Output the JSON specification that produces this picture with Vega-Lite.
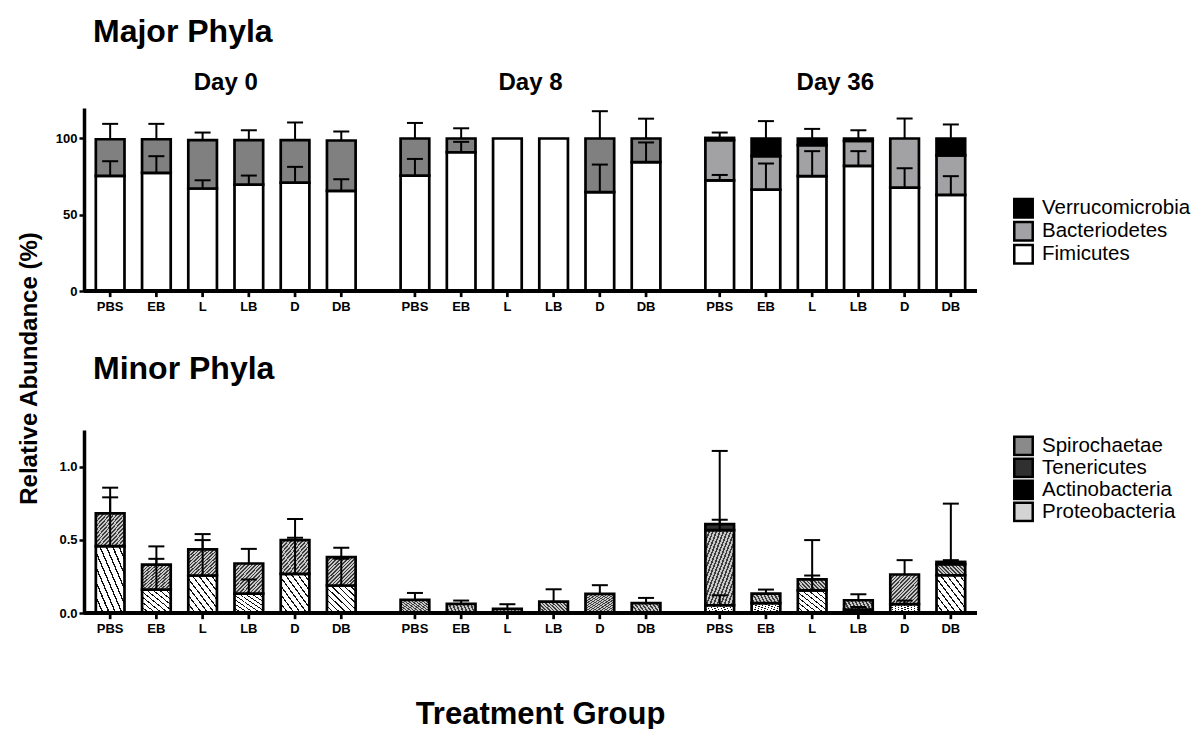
{
  "$schema": "https://vega.github.io/schema/vega-lite/v6.json",
  "padding": {"left": 17, "top": 15, "right": 5, "bottom": 5},
  "background": "#ffffff",
  "config": {
    "font": "Liberation Sans",
    "view": {"stroke": null},
    "axis": {"grid": false, "labelFont": "Liberation Sans", "titleFont": "Liberation Sans"},
    "legend": {"labelFont": "Liberation Sans"},
    "title": {"font": "Liberation Sans", "color": "#000"}
  },
  "datasets": {
    "major": [
      {"day": "Day 0", "trt": "PBS", "phylum": "Fimicutes", "value": 75.5},
      {"day": "Day 0", "trt": "PBS", "phylum": "Bacteriodetes", "value": 24},
      {"day": "Day 0", "trt": "EB", "phylum": "Fimicutes", "value": 77.4},
      {"day": "Day 0", "trt": "EB", "phylum": "Bacteriodetes", "value": 22.1},
      {"day": "Day 0", "trt": "L", "phylum": "Fimicutes", "value": 67.2},
      {"day": "Day 0", "trt": "L", "phylum": "Bacteriodetes", "value": 31.8},
      {"day": "Day 0", "trt": "LB", "phylum": "Fimicutes", "value": 69.8},
      {"day": "Day 0", "trt": "LB", "phylum": "Bacteriodetes", "value": 29.2},
      {"day": "Day 0", "trt": "D", "phylum": "Fimicutes", "value": 71.1},
      {"day": "Day 0", "trt": "D", "phylum": "Bacteriodetes", "value": 27.9},
      {"day": "Day 0", "trt": "DB", "phylum": "Fimicutes", "value": 65.6},
      {"day": "Day 0", "trt": "DB", "phylum": "Bacteriodetes", "value": 33.1},
      {"day": "Day 8", "trt": "PBS", "phylum": "Fimicutes", "value": 75.6},
      {"day": "Day 8", "trt": "PBS", "phylum": "Bacteriodetes", "value": 24.4},
      {"day": "Day 8", "trt": "EB", "phylum": "Fimicutes", "value": 91},
      {"day": "Day 8", "trt": "EB", "phylum": "Bacteriodetes", "value": 9},
      {"day": "Day 8", "trt": "L", "phylum": "Fimicutes", "value": 100},
      {"day": "Day 8", "trt": "LB", "phylum": "Fimicutes", "value": 100},
      {"day": "Day 8", "trt": "D", "phylum": "Fimicutes", "value": 64.9},
      {"day": "Day 8", "trt": "D", "phylum": "Bacteriodetes", "value": 35.1},
      {"day": "Day 8", "trt": "DB", "phylum": "Fimicutes", "value": 84.5},
      {"day": "Day 8", "trt": "DB", "phylum": "Bacteriodetes", "value": 15.5},
      {"day": "Day 36", "trt": "PBS", "phylum": "Fimicutes", "value": 72.6},
      {"day": "Day 36", "trt": "PBS", "phylum": "Bacteriodetes", "value": 26.3},
      {"day": "Day 36", "trt": "PBS", "phylum": "Verrucomicrobia", "value": 1.5},
      {"day": "Day 36", "trt": "EB", "phylum": "Fimicutes", "value": 66.5},
      {"day": "Day 36", "trt": "EB", "phylum": "Bacteriodetes", "value": 21.9},
      {"day": "Day 36", "trt": "EB", "phylum": "Verrucomicrobia", "value": 11.6},
      {"day": "Day 36", "trt": "L", "phylum": "Fimicutes", "value": 75.3},
      {"day": "Day 36", "trt": "L", "phylum": "Bacteriodetes", "value": 20.3},
      {"day": "Day 36", "trt": "L", "phylum": "Verrucomicrobia", "value": 4.4},
      {"day": "Day 36", "trt": "LB", "phylum": "Fimicutes", "value": 82},
      {"day": "Day 36", "trt": "LB", "phylum": "Bacteriodetes", "value": 16.4},
      {"day": "Day 36", "trt": "LB", "phylum": "Verrucomicrobia", "value": 1.6},
      {"day": "Day 36", "trt": "D", "phylum": "Fimicutes", "value": 67.8},
      {"day": "Day 36", "trt": "D", "phylum": "Bacteriodetes", "value": 32.2},
      {"day": "Day 36", "trt": "DB", "phylum": "Fimicutes", "value": 63},
      {"day": "Day 36", "trt": "DB", "phylum": "Bacteriodetes", "value": 26},
      {"day": "Day 36", "trt": "DB", "phylum": "Verrucomicrobia", "value": 11}
    ],
    "majorErr": [
      {"day": "Day 0", "trt": "PBS", "lo": 75.5, "hi": 85.1},
      {"day": "Day 0", "trt": "PBS", "lo": 99.5, "hi": 109.6},
      {"day": "Day 0", "trt": "EB", "lo": 77.4, "hi": 88.4},
      {"day": "Day 0", "trt": "EB", "lo": 99.5, "hi": 109.6},
      {"day": "Day 0", "trt": "L", "lo": 67.2, "hi": 72.6},
      {"day": "Day 0", "trt": "L", "lo": 99, "hi": 103.9},
      {"day": "Day 0", "trt": "LB", "lo": 69.8, "hi": 75.7},
      {"day": "Day 0", "trt": "LB", "lo": 99, "hi": 105.4},
      {"day": "Day 0", "trt": "D", "lo": 71.1, "hi": 81.4},
      {"day": "Day 0", "trt": "D", "lo": 99, "hi": 110.5},
      {"day": "Day 0", "trt": "DB", "lo": 65.6, "hi": 73.3},
      {"day": "Day 0", "trt": "DB", "lo": 98.7, "hi": 104.6},
      {"day": "Day 8", "trt": "PBS", "lo": 75.6, "hi": 86.6},
      {"day": "Day 8", "trt": "PBS", "lo": 100, "hi": 110.2},
      {"day": "Day 8", "trt": "EB", "lo": 91, "hi": 97.8},
      {"day": "Day 8", "trt": "EB", "lo": 100, "hi": 106.7},
      {"day": "Day 8", "trt": "D", "lo": 64.9, "hi": 82.9},
      {"day": "Day 8", "trt": "D", "lo": 100, "hi": 117.9},
      {"day": "Day 8", "trt": "DB", "lo": 84.5, "hi": 97.4},
      {"day": "Day 8", "trt": "DB", "lo": 100, "hi": 113},
      {"day": "Day 36", "trt": "PBS", "lo": 72.6, "hi": 76.1},
      {"day": "Day 36", "trt": "PBS", "lo": 100.4, "hi": 103.9},
      {"day": "Day 36", "trt": "EB", "lo": 66.5, "hi": 83.6},
      {"day": "Day 36", "trt": "EB", "lo": 100, "hi": 111.4},
      {"day": "Day 36", "trt": "L", "lo": 75.3, "hi": 91.7},
      {"day": "Day 36", "trt": "L", "lo": 100, "hi": 106.3},
      {"day": "Day 36", "trt": "LB", "lo": 82, "hi": 91.7},
      {"day": "Day 36", "trt": "LB", "lo": 100, "hi": 105.4},
      {"day": "Day 36", "trt": "D", "lo": 67.8, "hi": 80.5},
      {"day": "Day 36", "trt": "D", "lo": 100, "hi": 113.1},
      {"day": "Day 36", "trt": "DB", "lo": 63, "hi": 75.3},
      {"day": "Day 36", "trt": "DB", "lo": 100, "hi": 109.2}
    ],
    "minor": [
      {"day": "Day 0", "trt": "PBS", "phylum": "Proteobacteria", "value": 0.457},
      {"day": "Day 0", "trt": "PBS", "phylum": "Spirochaetae", "value": 0.224},
      {"day": "Day 0", "trt": "EB", "phylum": "Proteobacteria", "value": 0.16},
      {"day": "Day 0", "trt": "EB", "phylum": "Spirochaetae", "value": 0.171},
      {"day": "Day 0", "trt": "L", "phylum": "Proteobacteria", "value": 0.256},
      {"day": "Day 0", "trt": "L", "phylum": "Spirochaetae", "value": 0.178},
      {"day": "Day 0", "trt": "LB", "phylum": "Proteobacteria", "value": 0.133},
      {"day": "Day 0", "trt": "LB", "phylum": "Spirochaetae", "value": 0.205},
      {"day": "Day 0", "trt": "D", "phylum": "Proteobacteria", "value": 0.267},
      {"day": "Day 0", "trt": "D", "phylum": "Spirochaetae", "value": 0.231},
      {"day": "Day 0", "trt": "DB", "phylum": "Proteobacteria", "value": 0.188},
      {"day": "Day 0", "trt": "DB", "phylum": "Spirochaetae", "value": 0.193},
      {"day": "Day 8", "trt": "PBS", "phylum": "Spirochaetae", "value": 0.089},
      {"day": "Day 8", "trt": "EB", "phylum": "Spirochaetae", "value": 0.062},
      {"day": "Day 8", "trt": "L", "phylum": "Spirochaetae", "value": 0.028},
      {"day": "Day 8", "trt": "LB", "phylum": "Spirochaetae", "value": 0.078},
      {"day": "Day 8", "trt": "D", "phylum": "Spirochaetae", "value": 0.13},
      {"day": "Day 8", "trt": "DB", "phylum": "Spirochaetae", "value": 0.068},
      {"day": "Day 36", "trt": "PBS", "phylum": "Proteobacteria", "value": 0.053},
      {"day": "Day 36", "trt": "PBS", "phylum": "Spirochaetae", "value": 0.513},
      {"day": "Day 36", "trt": "PBS", "phylum": "Tenericutes", "value": 0.041},
      {"day": "Day 36", "trt": "EB", "phylum": "Proteobacteria", "value": 0.068},
      {"day": "Day 36", "trt": "EB", "phylum": "Spirochaetae", "value": 0.065},
      {"day": "Day 36", "trt": "L", "phylum": "Proteobacteria", "value": 0.155},
      {"day": "Day 36", "trt": "L", "phylum": "Spirochaetae", "value": 0.074},
      {"day": "Day 36", "trt": "LB", "phylum": "Proteobacteria", "value": 0.023},
      {"day": "Day 36", "trt": "LB", "phylum": "Spirochaetae", "value": 0.064},
      {"day": "Day 36", "trt": "D", "phylum": "Proteobacteria", "value": 0.06},
      {"day": "Day 36", "trt": "D", "phylum": "Spirochaetae", "value": 0.203},
      {"day": "Day 36", "trt": "DB", "phylum": "Proteobacteria", "value": 0.258},
      {"day": "Day 36", "trt": "DB", "phylum": "Spirochaetae", "value": 0.075},
      {"day": "Day 36", "trt": "DB", "phylum": "Tenericutes", "value": 0.016}
    ],
    "minorErr": [
      {"day": "Day 0", "trt": "PBS", "lo": 0.457, "hi": 0.79},
      {"day": "Day 0", "trt": "PBS", "lo": 0.681, "hi": 0.856},
      {"day": "Day 0", "trt": "EB", "lo": 0.16, "hi": 0.37},
      {"day": "Day 0", "trt": "EB", "lo": 0.331, "hi": 0.455},
      {"day": "Day 0", "trt": "L", "lo": 0.256, "hi": 0.498},
      {"day": "Day 0", "trt": "L", "lo": 0.434, "hi": 0.539},
      {"day": "Day 0", "trt": "LB", "lo": 0.133, "hi": 0.229},
      {"day": "Day 0", "trt": "LB", "lo": 0.338, "hi": 0.438},
      {"day": "Day 0", "trt": "D", "lo": 0.267, "hi": 0.514},
      {"day": "Day 0", "trt": "D", "lo": 0.498, "hi": 0.642},
      {"day": "Day 0", "trt": "DB", "lo": 0.188, "hi": 0.37},
      {"day": "Day 0", "trt": "DB", "lo": 0.381, "hi": 0.445},
      {"day": "Day 8", "trt": "PBS", "lo": 0.089, "hi": 0.137},
      {"day": "Day 8", "trt": "EB", "lo": 0.062, "hi": 0.085},
      {"day": "Day 8", "trt": "L", "lo": 0.028, "hi": 0.06},
      {"day": "Day 8", "trt": "LB", "lo": 0.078, "hi": 0.162},
      {"day": "Day 8", "trt": "D", "lo": 0.13, "hi": 0.19},
      {"day": "Day 8", "trt": "DB", "lo": 0.068, "hi": 0.103},
      {"day": "Day 36", "trt": "PBS", "lo": 0.053, "hi": 0.121},
      {"day": "Day 36", "trt": "PBS", "lo": 0.566, "hi": 0.637},
      {"day": "Day 36", "trt": "PBS", "lo": 0.607, "hi": 1.107},
      {"day": "Day 36", "trt": "EB", "lo": 0.133, "hi": 0.16},
      {"day": "Day 36", "trt": "L", "lo": 0.155, "hi": 0.256},
      {"day": "Day 36", "trt": "L", "lo": 0.229, "hi": 0.498},
      {"day": "Day 36", "trt": "LB", "lo": 0.023, "hi": 0.041},
      {"day": "Day 36", "trt": "LB", "lo": 0.087, "hi": 0.128},
      {"day": "Day 36", "trt": "D", "lo": 0.06, "hi": 0.085},
      {"day": "Day 36", "trt": "D", "lo": 0.263, "hi": 0.361},
      {"day": "Day 36", "trt": "DB", "lo": 0.333, "hi": 0.361},
      {"day": "Day 36", "trt": "DB", "lo": 0.349, "hi": 0.747}
    ],
    "groups": [
      {"day": "Day 0", "trt": "PBS"}, {"day": "Day 0", "trt": "EB"}, {"day": "Day 0", "trt": "L"},
      {"day": "Day 0", "trt": "LB"}, {"day": "Day 0", "trt": "D"}, {"day": "Day 0", "trt": "DB"},
      {"day": "Day 8", "trt": "PBS"}, {"day": "Day 8", "trt": "EB"}, {"day": "Day 8", "trt": "L"},
      {"day": "Day 8", "trt": "LB"}, {"day": "Day 8", "trt": "D"}, {"day": "Day 8", "trt": "DB"},
      {"day": "Day 36", "trt": "PBS"}, {"day": "Day 36", "trt": "EB"}, {"day": "Day 36", "trt": "L"},
      {"day": "Day 36", "trt": "LB"}, {"day": "Day 36", "trt": "D"}, {"day": "Day 36", "trt": "DB"}
    ]
  },
  "spacing": 139,
  "bounds": "flush",
  "resolve": {"scale": {"y": "independent", "fill": "independent"}, "legend": {"fill": "independent"}},
  "vconcat": [
    {
      "width": 893,
      "height": 183,
      "title": {"text": "Major Phyla", "anchor": "start", "frame": "group", "dx": 9, "fontSize": 32, "fontWeight": "bold", "offset": 21.5},
      "layer": [
        {
          "data": {"name": "major"},
          "mark": {"type": "bar", "stroke": "#000", "strokeWidth": 2.7},
          "encoding": {
            "x": {"field": "day", "type": "nominal", "sort": ["Day 0", "Day 8", "Day 36"],
                  "scale": {"paddingInner": 0.09, "paddingOuter": 0.01},
                  "axis": {"orient": "top", "title": null, "domain": false, "ticks": false, "labelAngle": 0, "labelFontSize": 24, "labelFontWeight": "bold", "labelPadding": 19, "labelBaseline": "alphabetic", "labelColor": "#000"}},
            "xOffset": {"field": "trt", "type": "nominal", "sort": ["PBS", "EB", "L", "LB", "D", "DB"], "scale": {"paddingInner": 0.38, "paddingOuter": 0.19}},
            "y": {"field": "value", "type": "quantitative", "stack": "zero", "scale": {"domain": [0, 120], "nice": false},
                  "axis": {"title": "Relative Abundance (%)", "values": [0, 50, 100], "domainWidth": 3.5, "domainColor": "#000", "tickColor": "#000", "tickWidth": 2.5, "tickSize": 5, "labelFontSize": 13, "labelFontWeight": "bold", "labelPadding": 2, "labelColor": "#000", "titleFontSize": 24, "titleFontWeight": "bold", "titleColor": "#000", "titleAngle": -90, "titleX": -48, "titleY": 260, "titleBaseline": "alphabetic", "titleAlign": "center"}},
            "order": {"field": "value", "type": "quantitative", "sort": "descending"},
            "fill": {
              "field": "phylum", "type": "nominal",
              "condition": {"test": "datum.phylum === 'Bacteriodetes' && datum.day !== 'Day 36'", "value": "#808080"},
              "scale": {"domain": ["Verrucomicrobia", "Bacteriodetes", "Fimicutes"], "range": ["#000000", "#a2a2a4", "#ffffff"]},
              "legend": {"title": null, "orient": "none", "legendX": 929, "legendY": 89, "symbolType": "square", "symbolSize": 340, "symbolStrokeColor": "#000", "symbolStrokeWidth": 2.5, "labelFontSize": 20.5, "labelOffset": 8, "rowPadding": 0, "clipHeight": 22.5, "labelColor": "#000", "values": ["Verrucomicrobia", "Bacteriodetes", "Fimicutes"]}
            }
          }
        },
        {
          "data": {"name": "majorErr"},
          "mark": {"type": "rule", "color": "#000", "strokeWidth": 2},
          "encoding": {
            "x": {"field": "day", "type": "nominal", "sort": ["Day 0", "Day 8", "Day 36"]},
            "xOffset": {"field": "trt", "type": "nominal", "sort": ["PBS", "EB", "L", "LB", "D", "DB"]},
            "y": {"field": "lo", "type": "quantitative"},
            "y2": {"field": "hi"}
          }
        },
        {
          "data": {"name": "majorErr"},
          "mark": {"type": "tick", "orient": "horizontal", "color": "#000", "size": 16, "thickness": 2, "opacity": 1},
          "encoding": {
            "x": {"field": "day", "type": "nominal", "sort": ["Day 0", "Day 8", "Day 36"]},
            "xOffset": {"field": "trt", "type": "nominal", "sort": ["PBS", "EB", "L", "LB", "D", "DB"]},
            "y": {"field": "hi", "type": "quantitative"}
          }
        },
        {
          "data": {"values": [{}]},
          "mark": {"type": "rule", "color": "#000", "strokeWidth": 4},
          "encoding": {"y": {"datum": 0, "type": "quantitative"}}
        },
        {
          "data": {"name": "groups"},
          "mark": {"type": "rule", "color": "#000", "strokeWidth": 2.7},
          "encoding": {
            "x": {"field": "day", "type": "nominal", "sort": ["Day 0", "Day 8", "Day 36"]},
            "xOffset": {"field": "trt", "type": "nominal", "sort": ["PBS", "EB", "L", "LB", "D", "DB"]},
            "y": {"datum": 0, "type": "quantitative"},
            "y2": {"datum": -4}
          }
        },
        {
          "data": {"name": "groups"},
          "mark": {"type": "text", "dy": 16, "fontSize": 13, "fontWeight": "bold", "baseline": "middle", "color": "#000"},
          "encoding": {
            "x": {"field": "day", "type": "nominal", "sort": ["Day 0", "Day 8", "Day 36"]},
            "xOffset": {"field": "trt", "type": "nominal", "sort": ["PBS", "EB", "L", "LB", "D", "DB"]},
            "y": {"datum": 0, "type": "quantitative"},
            "text": {"field": "trt"}
          }
        }
      ]
    },
    {
      "width": 893,
      "height": 183,
      "title": {"text": "Minor Phyla", "anchor": "start", "frame": "group", "dx": 9, "fontSize": 32, "fontWeight": "bold", "offset": 44},
      "layer": [
        {
          "data": {"name": "minor"},
          "mark": {"type": "bar", "stroke": "#000", "strokeWidth": 2.7},
          "encoding": {
            "x": {"field": "day", "type": "nominal", "sort": ["Day 0", "Day 8", "Day 36"],
                  "scale": {"paddingInner": 0.09, "paddingOuter": 0.01},
                  "axis": {"orient": "bottom", "labels": false, "ticks": false, "domain": false, "title": "Treatment Group", "titleFontSize": 31, "titleFontWeight": "bold", "titleColor": "#000", "titlePadding": 110, "titleBaseline": "alphabetic", "titleX": 456}},
            "xOffset": {"field": "trt", "type": "nominal", "sort": ["PBS", "EB", "L", "LB", "D", "DB"], "scale": {"paddingInner": 0.38, "paddingOuter": 0.19}},
            "y": {"field": "value", "type": "quantitative", "stack": "zero", "scale": {"domain": [0, 1.25], "nice": false},
                  "axis": {"title": null, "values": [0, 0.5, 1], "format": ".1f", "domainWidth": 3.5, "domainColor": "#000", "tickColor": "#000", "tickWidth": 2.5, "tickSize": 5, "labelFontSize": 13, "labelFontWeight": "bold", "labelPadding": 2, "labelColor": "#000"}},
            "order": {"field": "phylum", "type": "nominal", "sort": "ascending"},
            "fill": {
              "field": "phylum", "type": "nominal",
              "condition": [
                {"test": "datum.phylum === 'Spirochaetae'", "value": {"gradient": "linear", "x1": 0, "y1": 0, "x2": 1, "y2": 1, "stops": [
                    {"offset": 0, "color": "#3c3c3c"}, {"offset": 0.028, "color": "#3c3c3c"}, {"offset": 0.028, "color": "#c8c8c8"}, {"offset": 0.0625, "color": "#c8c8c8"},
                    {"offset": 0.0625, "color": "#3c3c3c"}, {"offset": 0.0905, "color": "#3c3c3c"}, {"offset": 0.0905, "color": "#c8c8c8"}, {"offset": 0.125, "color": "#c8c8c8"},
                    {"offset": 0.125, "color": "#3c3c3c"}, {"offset": 0.153, "color": "#3c3c3c"}, {"offset": 0.153, "color": "#c8c8c8"}, {"offset": 0.1875, "color": "#c8c8c8"},
                    {"offset": 0.1875, "color": "#3c3c3c"}, {"offset": 0.2155, "color": "#3c3c3c"}, {"offset": 0.2155, "color": "#c8c8c8"}, {"offset": 0.25, "color": "#c8c8c8"},
                    {"offset": 0.25, "color": "#3c3c3c"}, {"offset": 0.278, "color": "#3c3c3c"}, {"offset": 0.278, "color": "#c8c8c8"}, {"offset": 0.3125, "color": "#c8c8c8"},
                    {"offset": 0.3125, "color": "#3c3c3c"}, {"offset": 0.3405, "color": "#3c3c3c"}, {"offset": 0.3405, "color": "#c8c8c8"}, {"offset": 0.375, "color": "#c8c8c8"},
                    {"offset": 0.375, "color": "#3c3c3c"}, {"offset": 0.403, "color": "#3c3c3c"}, {"offset": 0.403, "color": "#c8c8c8"}, {"offset": 0.4375, "color": "#c8c8c8"},
                    {"offset": 0.4375, "color": "#3c3c3c"}, {"offset": 0.4655, "color": "#3c3c3c"}, {"offset": 0.4655, "color": "#c8c8c8"}, {"offset": 0.5, "color": "#c8c8c8"},
                    {"offset": 0.5, "color": "#3c3c3c"}, {"offset": 0.528, "color": "#3c3c3c"}, {"offset": 0.528, "color": "#c8c8c8"}, {"offset": 0.5625, "color": "#c8c8c8"},
                    {"offset": 0.5625, "color": "#3c3c3c"}, {"offset": 0.5905, "color": "#3c3c3c"}, {"offset": 0.5905, "color": "#c8c8c8"}, {"offset": 0.625, "color": "#c8c8c8"},
                    {"offset": 0.625, "color": "#3c3c3c"}, {"offset": 0.653, "color": "#3c3c3c"}, {"offset": 0.653, "color": "#c8c8c8"}, {"offset": 0.6875, "color": "#c8c8c8"},
                    {"offset": 0.6875, "color": "#3c3c3c"}, {"offset": 0.7155, "color": "#3c3c3c"}, {"offset": 0.7155, "color": "#c8c8c8"}, {"offset": 0.75, "color": "#c8c8c8"},
                    {"offset": 0.75, "color": "#3c3c3c"}, {"offset": 0.778, "color": "#3c3c3c"}, {"offset": 0.778, "color": "#c8c8c8"}, {"offset": 0.8125, "color": "#c8c8c8"},
                    {"offset": 0.8125, "color": "#3c3c3c"}, {"offset": 0.8405, "color": "#3c3c3c"}, {"offset": 0.8405, "color": "#c8c8c8"}, {"offset": 0.875, "color": "#c8c8c8"},
                    {"offset": 0.875, "color": "#3c3c3c"}, {"offset": 0.903, "color": "#3c3c3c"}, {"offset": 0.903, "color": "#c8c8c8"}, {"offset": 0.9375, "color": "#c8c8c8"},
                    {"offset": 0.9375, "color": "#3c3c3c"}, {"offset": 0.9655, "color": "#3c3c3c"}, {"offset": 0.9655, "color": "#c8c8c8"}, {"offset": 1, "color": "#c8c8c8"}
                  ]}},
                {"test": "datum.phylum === 'Proteobacteria'", "value": {"gradient": "linear", "x1": 0, "y1": 1, "x2": 1, "y2": 0, "stops": [
                    {"offset": 0, "color": "#111111"}, {"offset": 0.025, "color": "#111111"}, {"offset": 0.025, "color": "#ffffff"}, {"offset": 0.1111, "color": "#ffffff"},
                    {"offset": 0.1111, "color": "#111111"}, {"offset": 0.1361, "color": "#111111"}, {"offset": 0.1361, "color": "#ffffff"}, {"offset": 0.2222, "color": "#ffffff"},
                    {"offset": 0.2222, "color": "#111111"}, {"offset": 0.2472, "color": "#111111"}, {"offset": 0.2472, "color": "#ffffff"}, {"offset": 0.3333, "color": "#ffffff"},
                    {"offset": 0.3333, "color": "#111111"}, {"offset": 0.3583, "color": "#111111"}, {"offset": 0.3583, "color": "#ffffff"}, {"offset": 0.4444, "color": "#ffffff"},
                    {"offset": 0.4444, "color": "#111111"}, {"offset": 0.4694, "color": "#111111"}, {"offset": 0.4694, "color": "#ffffff"}, {"offset": 0.5556, "color": "#ffffff"},
                    {"offset": 0.5556, "color": "#111111"}, {"offset": 0.5806, "color": "#111111"}, {"offset": 0.5806, "color": "#ffffff"}, {"offset": 0.6667, "color": "#ffffff"},
                    {"offset": 0.6667, "color": "#111111"}, {"offset": 0.6917, "color": "#111111"}, {"offset": 0.6917, "color": "#ffffff"}, {"offset": 0.7778, "color": "#ffffff"},
                    {"offset": 0.7778, "color": "#111111"}, {"offset": 0.8028, "color": "#111111"}, {"offset": 0.8028, "color": "#ffffff"}, {"offset": 0.8889, "color": "#ffffff"},
                    {"offset": 0.8889, "color": "#111111"}, {"offset": 0.9139, "color": "#111111"}, {"offset": 0.9139, "color": "#ffffff"}, {"offset": 1, "color": "#ffffff"}
                  ]}}
              ],
              "scale": {"domain": ["Tenericutes", "Actinobacteria", "Spirochaetae", "Proteobacteria"], "range": ["#303030", "#000000", "#8a8a8a", "#d4d4d4"]},
              "legend": {"title": null, "orient": "none", "legendX": 929, "legendY": 5, "symbolType": "square", "symbolSize": 340, "symbolStrokeColor": "#000", "symbolStrokeWidth": 2.5, "labelFontSize": 20.5, "labelOffset": 8, "rowPadding": 0, "clipHeight": 21.7, "labelColor": "#000", "values": ["Spirochaetae", "Tenericutes", "Actinobacteria", "Proteobacteria"]}
            }
          }
        },
        {
          "data": {"name": "minorErr"},
          "mark": {"type": "rule", "color": "#000", "strokeWidth": 2},
          "encoding": {
            "x": {"field": "day", "type": "nominal", "sort": ["Day 0", "Day 8", "Day 36"]},
            "xOffset": {"field": "trt", "type": "nominal", "sort": ["PBS", "EB", "L", "LB", "D", "DB"]},
            "y": {"field": "lo", "type": "quantitative"},
            "y2": {"field": "hi"}
          }
        },
        {
          "data": {"name": "minorErr"},
          "mark": {"type": "tick", "orient": "horizontal", "color": "#000", "size": 16, "thickness": 2, "opacity": 1},
          "encoding": {
            "x": {"field": "day", "type": "nominal", "sort": ["Day 0", "Day 8", "Day 36"]},
            "xOffset": {"field": "trt", "type": "nominal", "sort": ["PBS", "EB", "L", "LB", "D", "DB"]},
            "y": {"field": "hi", "type": "quantitative"}
          }
        },
        {
          "data": {"values": [{}]},
          "mark": {"type": "rule", "color": "#000", "strokeWidth": 4},
          "encoding": {"y": {"datum": 0, "type": "quantitative"}}
        },
        {
          "data": {"name": "groups"},
          "mark": {"type": "rule", "color": "#000", "strokeWidth": 2.7},
          "encoding": {
            "x": {"field": "day", "type": "nominal", "sort": ["Day 0", "Day 8", "Day 36"]},
            "xOffset": {"field": "trt", "type": "nominal", "sort": ["PBS", "EB", "L", "LB", "D", "DB"]},
            "y": {"datum": 0, "type": "quantitative"},
            "y2": {"datum": -0.042}
          }
        },
        {
          "data": {"name": "groups"},
          "mark": {"type": "text", "dy": 16, "fontSize": 13, "fontWeight": "bold", "baseline": "middle", "color": "#000"},
          "encoding": {
            "x": {"field": "day", "type": "nominal", "sort": ["Day 0", "Day 8", "Day 36"]},
            "xOffset": {"field": "trt", "type": "nominal", "sort": ["PBS", "EB", "L", "LB", "D", "DB"]},
            "y": {"datum": 0, "type": "quantitative"},
            "text": {"field": "trt"}
          }
        }
      ]
    }
  ]
}
